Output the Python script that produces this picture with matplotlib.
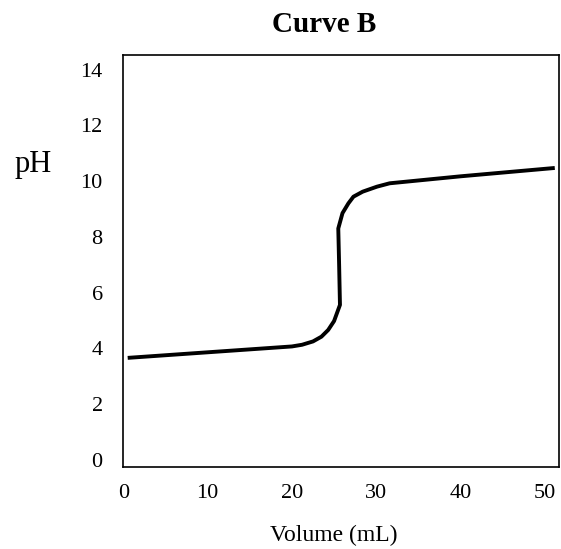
import matplotlib
matplotlib.use("Agg")
import matplotlib.pyplot as plt

# titration curve B
volume = [0.5, 10, 20, 21.2, 22.5, 23.5, 24.3, 25.0, 25.7, 25.6, 25.5, 26.0, 26.7, 27.3, 28.4, 30.1, 31.6, 40, 51.2]
ph = [3.66, 3.86, 4.07, 4.13, 4.25, 4.42, 4.66, 4.98, 5.56, 7.0, 8.3, 8.85, 9.2, 9.44, 9.62, 9.8, 9.92, 10.17, 10.47]
xticks = [0, 10, 20, 30, 40, 50]
yticks = [0, 2, 4, 6, 8, 10, 12, 14]

plt.rcParams['font.family'] = ['Liberation Serif', 'DejaVu Serif']

fig = plt.figure(figsize=(5.61, 5.49), dpi=100)
ax = fig.add_axes([0.2201, 0.1485, 0.7763, 0.7513])
ax.plot(volume, ph, color='black', lw=2.8, solid_joinstyle='round', solid_capstyle='butt')

ax.set_xlim(0, 51.7)
ax.set_ylim(-0.27, 14.52)
ax.set_xticks(xticks)
ax.set_yticks(yticks)
ax.tick_params(length=0, labelsize=16)
ax.tick_params(axis='y', pad=15)
ax.tick_params(axis='x', pad=12)
for s in ax.spines.values():
    s.set_linewidth(1.2)

fig.text(0.5775, 0.9417, 'Curve B', ha='center', va='baseline', fontsize=21, fontweight='bold')
fig.text(0.0588, 0.6867, 'pH', ha='center', va='baseline', fontsize=22)
fig.text(0.595, 0.0146, 'Volume (mL)', ha='center', va='baseline', fontsize=17)

fig.savefig('out.png', dpi=100)
